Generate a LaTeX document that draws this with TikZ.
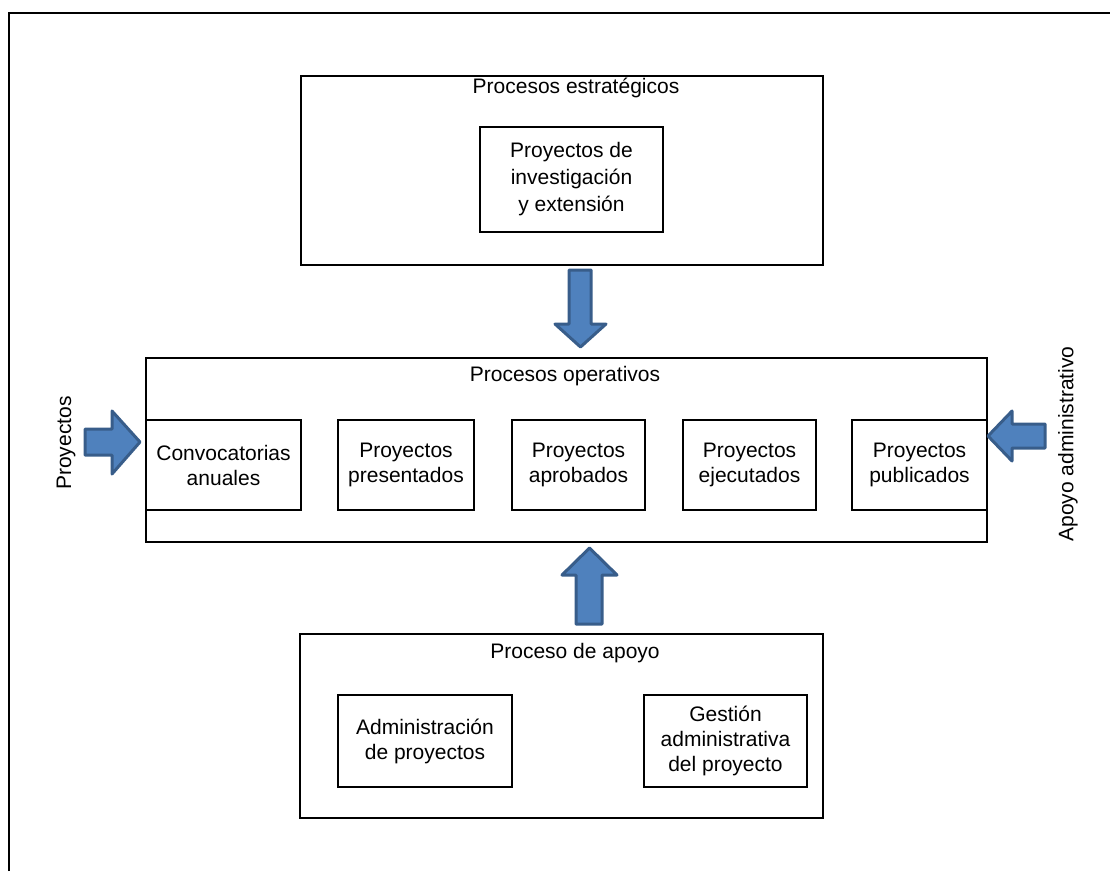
\documentclass[tikz,border=0pt]{standalone}
\usepackage{fontspec}
\setmainfont{Liberation Sans}
\definecolor{arrowfill}{HTML}{4F81BD}
\definecolor{arrowline}{HTML}{385D8A}
\begin{document}
\begin{tikzpicture}[x=1pt,y=-1pt,
  txt/.style={font=\fontsize{21}{25}\selectfont},
  box/.style={txt, draw=black, line width=2pt, anchor=north west, inner sep=0pt, align=center},
  title/.style={txt, inner sep=0pt},
  sidelabel/.style={txt, inner sep=0pt, rotate=90},
  blockarrow/.style={fill=arrowfill, draw=arrowline, line width=3pt, line join=round}]
\useasboundingbox (0,0) rectangle (1110,871);
% page frame
\draw[line width=2pt] (9,871) -- (9,13) -- (1110,13);

% strategic processes
\node[box, minimum width=522pt, minimum height=189pt] (estr) at (300,75) {};
\node[title] (estrtitle) at (576,88) {Procesos estratégicos};
\node[box, minimum width=183pt, minimum height=105pt, font=\fontsize{21}{27}\selectfont] (invest) at (479,126) {Proyectos de\\investigación\\y extensión};

% operational processes
\node[box, minimum width=841pt, minimum height=184pt] (oper) at (145,357) {};
\node[title] (opertitle) at (565,376) {Procesos operativos};
\node[box, minimum width=155pt, minimum height=90pt] (conv) at (145,419) {Convocatorias\\anuales};
\node[box, minimum width=136pt, minimum height=90pt] (pres) at (337,419) {Proyectos\\presentados};
\node[box, minimum width=133pt, minimum height=90pt] (aprob) at (511,419) {Proyectos\\aprobados};
\node[box, minimum width=133pt, minimum height=90pt] (ejec) at (682,419) {Proyectos\\ejecutados};
\node[box, minimum width=135pt, minimum height=90pt] (publ) at (851,419) {Proyectos\\publicados};

% support processes
\node[box, minimum width=523pt, minimum height=184pt] (apoyo) at (299,633) {};
\node[title] (apoyotitle) at (575,653) {Proceso de apoyo};
\node[box, minimum width=174pt, minimum height=92pt] (admin) at (337,694) {Administración\\de proyectos};
\node[box, minimum width=163pt, minimum height=92pt] (gest) at (643,694) {Gestión\\administrativa\\del proyecto};

% side labels
\node[sidelabel] (inlabel) at (66,443) {Proyectos};
\node[sidelabel] (outlabel) at (1068,444) {Apoyo administrativo};

% block arrows
\draw[blockarrow] (569,270) -- (591,270) -- (591,324) -- (606,324) -- (580.5,347) -- (555,324) -- (569,324) -- cycle;
\draw[blockarrow] (576,624) -- (602,624) -- (602,575) -- (617,575) -- (589.5,548) -- (562,575) -- (576,575) -- cycle;
\draw[blockarrow] (85,429) -- (112,429) -- (112,411) -- (140,442) -- (112,474) -- (112,455) -- (85,455) -- cycle;
\draw[blockarrow] (1045,424) -- (1012,424) -- (1012,411) -- (988,436) -- (1012,461) -- (1012,448) -- (1045,448) -- cycle;
\end{tikzpicture}
\end{document}
